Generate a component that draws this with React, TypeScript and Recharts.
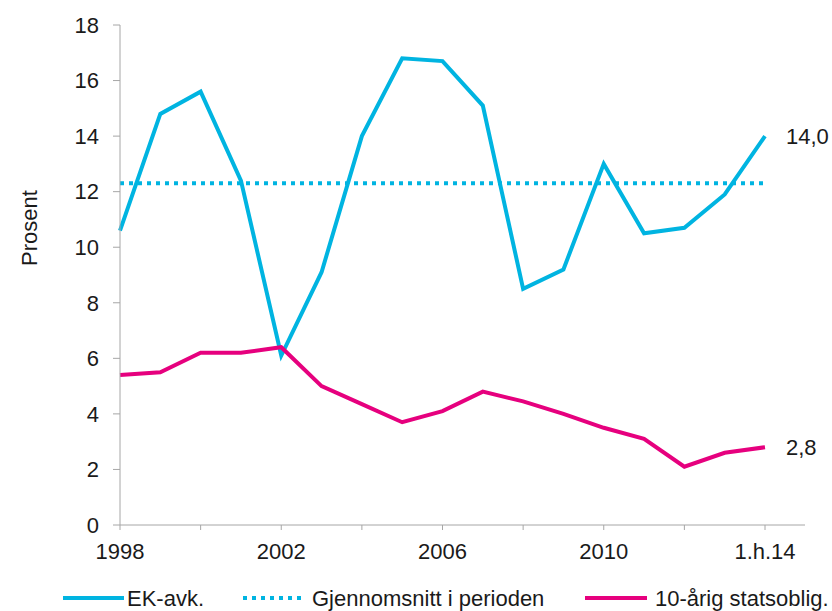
import React from 'react';
import { LineChart, Line, XAxis, YAxis, Legend, LabelList } from 'recharts';

const categories = ['1998','1999','2000','2001','2002','2003','2004','2005','2006','2007','2008','2009','2010','2011','2012','2013','1.h.14'];
const ekAvk = [10.6,14.8,15.6,12.4,6.1,9.1,14.0,16.8,16.7,15.1,8.5,9.2,13.0,10.5,10.7,11.9,14.0];
const snitt = [12.3,12.3,12.3,12.3,12.3,12.3,12.3,12.3,12.3,12.3,12.3,12.3,12.3,12.3,12.3,12.3,12.3];
const stat10 = [5.4,5.5,6.2,6.2,6.4,5.0,4.35,3.7,4.1,4.8,4.45,4.0,3.5,3.1,2.1,2.6,2.8];
const shownLabels = ['1998','2002','2006','2010','1.h.14'];
const yTicks = [0,2,4,6,8,10,12,14,16,18];
const endLabels = { ek: '14,0', stat: '2,8' };

const data = categories.map((c, i) => ({ cat: c, ek: ekAvk[i], snitt: snitt[i], stat: stat10[i] }));

const CYAN = '#00B4E1';
const PINK = '#E6007E';
const AXIS = '#A6A6A6';
const FONT = 'Liberation Sans, Arial, sans-serif';
const FS = 22;

const XTick = (props: any) => {
  const { x, y, payload } = props;
  if (!shownLabels.includes(payload.value)) return <g />;
  return (
    <text x={x} y={y} dy="0.71em" textAnchor="middle" fill="#1a1a1a" fontSize={FS} fontFamily={FONT}>
      {payload.value}
    </text>
  );
};

const makeEndLabel = (text: string) => (props: any) => {
  const { x, y, index } = props;
  if (index !== categories.length - 1) return null;
  return (
    <text x={x + 21} y={y} dy="0.36em" textAnchor="start" fill="#1a1a1a" fontSize={FS} fontFamily={FONT}>
      {text}
    </text>
  );
};

const LegendContent = () => (
  <div style={{ position: 'relative', width: 832, height: 30, fontFamily: FONT, fontSize: FS, color: '#1a1a1a' }}>
    <svg width={832} height={30} style={{ position: 'absolute', left: 0, top: 0 }}>
      <line x1={63} x2={124} y1={15} y2={15} stroke={CYAN} strokeWidth={4} />
      <text x={127} y={15} dy="0.36em" fontSize={FS} fontFamily={FONT} fill="#1a1a1a">EK-avk.</text>
      <line x1={243} x2={302} y1={15} y2={15} stroke={CYAN} strokeWidth={4} strokeDasharray="4 5" />
      <text x={312} y={15} dy="0.36em" fontSize={FS} fontFamily={FONT} fill="#1a1a1a">Gjennomsnitt i perioden</text>
      <line x1={585} x2={647} y1={15} y2={15} stroke={PINK} strokeWidth={4} />
      <text x={655} y={15} dy="0.36em" fontSize={FS} fontFamily={FONT} fill="#1a1a1a">10-årig statsoblig.</text>
    </svg>
  </div>
);

export default function App() {
  return (
    <div style={{ position: 'absolute', left: 0, top: 0, width: 832, height: 611, background: '#fff' }}>
      <LineChart width={832} height={611} data={data} margin={{ top: 25, right: 27, bottom: 6, left: 0 }}>
        <XAxis
          dataKey="cat"
          interval={1}
          padding={{ left: 0, right: 40 }}
          stroke={AXIS}
          tickSize={5}
          tickMargin={13}
          height={50}
          tick={<XTick />}
        />
        <YAxis
          domain={[0, 18]}
          ticks={yTicks}
          width={120}
          stroke={AXIS}
          tickSize={7}
          tickMargin={14}
          tick={{ fill: '#1a1a1a', fontSize: FS, fontFamily: FONT }}
          label={{
            content: () => (
              <text x={29} y={228} transform="rotate(-90 29 228)" textAnchor="middle" dominantBaseline="central" fill="#1a1a1a" fontSize={FS} fontFamily={FONT}>
                Prosent
              </text>
            ),
          }}
        />
        <Legend verticalAlign="bottom" content={<LegendContent />} wrapperStyle={{ position: 'absolute', left: 0, top: 583, width: 832, height: 30 }} />
        <Line dataKey="snitt" stroke={CYAN} strokeWidth={4} strokeDasharray="4 5" dot={false} activeDot={false} isAnimationActive={false} />
        <Line dataKey="ek" stroke={CYAN} strokeWidth={4} dot={false} activeDot={false} isAnimationActive={false}>
          <LabelList dataKey="ek" content={makeEndLabel(endLabels.ek)} />
        </Line>
        <Line dataKey="stat" stroke={PINK} strokeWidth={4} dot={false} activeDot={false} isAnimationActive={false}>
          <LabelList dataKey="stat" content={makeEndLabel(endLabels.stat)} />
        </Line>
      </LineChart>
    </div>
  );
}
